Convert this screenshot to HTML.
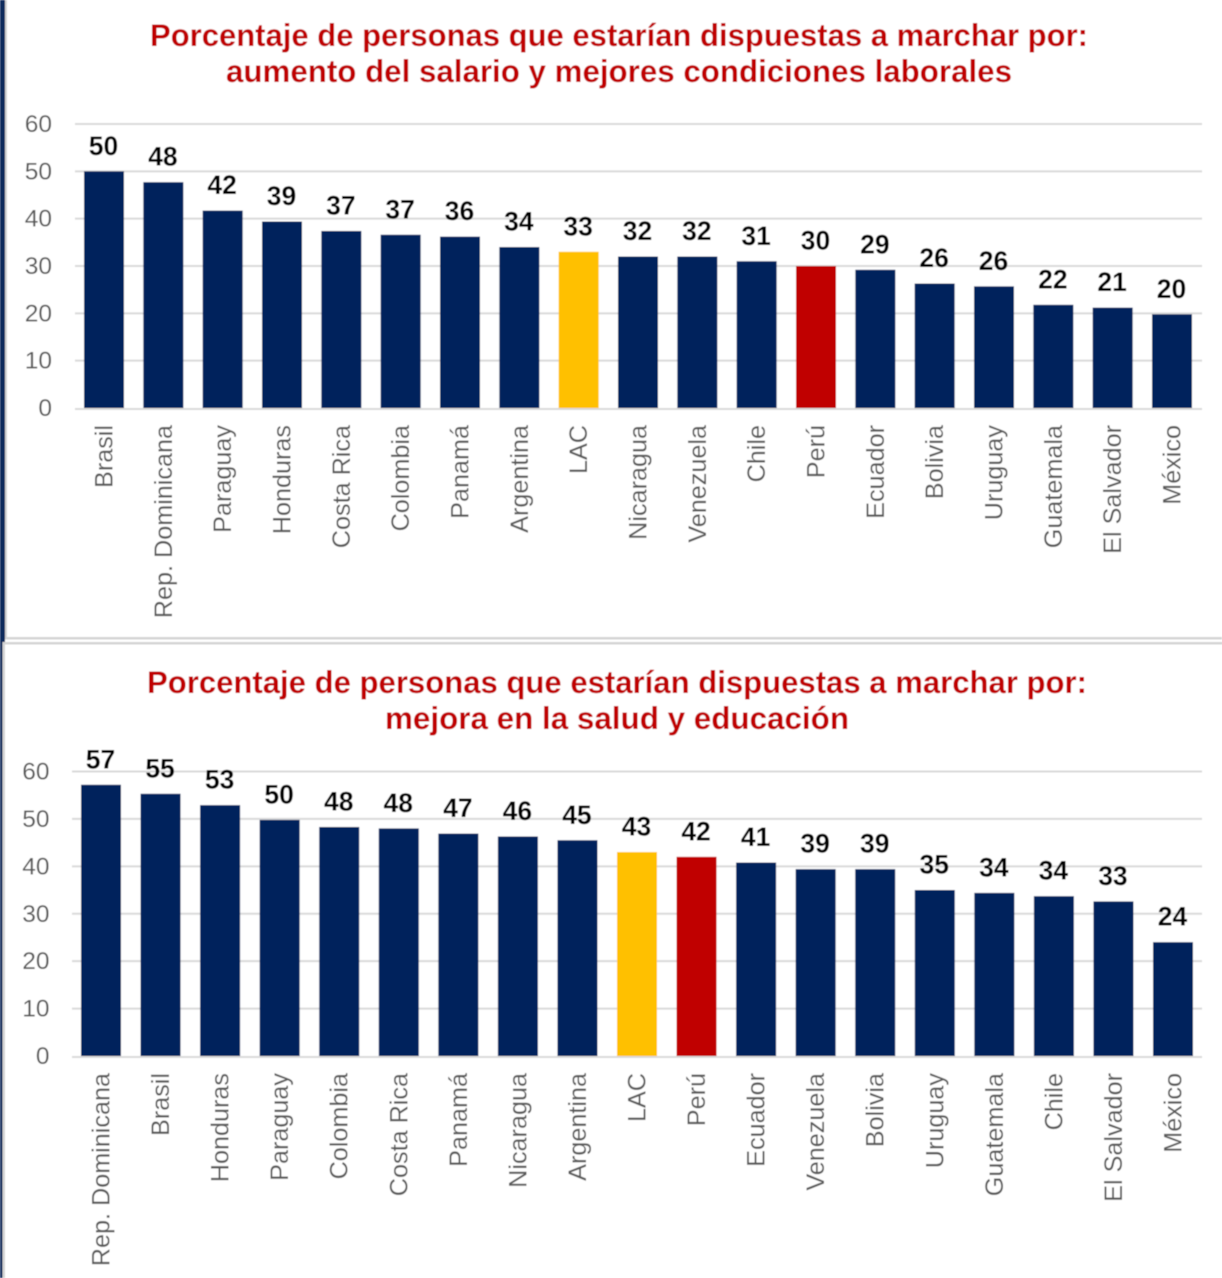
<!DOCTYPE html>
<html lang="es"><head><meta charset="utf-8"><title>Marchas</title>
<style>html,body{margin:0;padding:0;background:#fff}svg{display:block}text{font-family:"Liberation Sans",Arial,sans-serif}</style>
</head><body>
<svg id="figure" xmlns="http://www.w3.org/2000/svg" width="1222" height="1278" viewBox="0 0 1222 1278">
<defs><filter id="soft" x="-2%" y="-2%" width="104%" height="104%"><feGaussianBlur stdDeviation="0.45"/></filter></defs>
<g id="root" filter="url(#soft)">
<rect width="1222" height="1278" fill="#fff"/>
<rect x="0" y="0" width="5" height="642" fill="#0b2a5c"/>
<rect x="0" y="642" width="2.5" height="636" fill="#0b2a5c"/>
<rect x="5" y="0" width="2" height="639" fill="#d4d4d4"/>
<rect x="5" y="637" width="1217" height="2.5" fill="#d4d4d4"/>
<rect x="2.5" y="642" width="1220" height="2.5" fill="#d4d4d4"/>
<rect x="2.5" y="642" width="2.5" height="636" fill="#d4d4d4"/>
<text x="619" y="46" text-anchor="middle" font-size="31.5" font-weight="700" fill="#c00000" textLength="938" lengthAdjust="spacingAndGlyphs">Porcentaje de personas que estarían dispuestas a marchar por:</text>
<text x="619" y="82" text-anchor="middle" font-size="31.5" font-weight="700" fill="#c00000" textLength="786" lengthAdjust="spacingAndGlyphs">aumento del salario y mejores condiciones laborales</text>
<text x="617" y="693" text-anchor="middle" font-size="31.5" font-weight="700" fill="#c00000" textLength="940" lengthAdjust="spacingAndGlyphs">Porcentaje de personas que estarían dispuestas a marchar por:</text>
<text x="617" y="729" text-anchor="middle" font-size="31.5" font-weight="700" fill="#c00000" textLength="464" lengthAdjust="spacingAndGlyphs">mejora en la salud y educación</text>
<g id="chart-top"></g>
<g id="chart-bottom"></g>
</g>
</svg>
<script>
const yTicks = [0, 10, 20, 30, 40, 50, 60];

const topCategories = ["Brasil","Rep. Dominicana","Paraguay","Honduras","Costa Rica","Colombia","Panamá","Argentina","LAC","Nicaragua","Venezuela","Chile","Perú","Ecuador","Bolivia","Uruguay","Guatemala","El Salvador","México"];
const topValues = [50,47.7,41.7,39.4,37.4,36.6,36.2,34,33,32,32,31,30,29.2,26.3,25.7,21.8,21.2,19.8];
const topLabels = ["50","48","42","39","37","37","36","34","33","32","32","31","30","29","26","26","22","21","20"];

const bottomCategories = ["Rep. Dominicana","Brasil","Honduras","Paraguay","Colombia","Costa Rica","Panamá","Nicaragua","Argentina","LAC","Perú","Ecuador","Venezuela","Bolivia","Uruguay","Guatemala","Chile","El Salvador","México"];
const bottomValues = [57.2,55.3,52.9,49.8,48.3,48,46.9,46.3,45.5,43,42,40.8,39.4,39.4,35,34.4,33.7,32.6,24];
const bottomLabels = ["57","55","53","50","48","48","47","46","45","43","42","41","39","39","35","34","34","33","24"];

const NS = 'http://www.w3.org/2000/svg';
function make(parent, tag, attrs, text) {
  const el = document.createElementNS(NS, tag);
  for (const k in attrs) el.setAttribute(k, attrs[k]);
  if (text !== undefined) el.textContent = text;
  parent.appendChild(el);
  return el;
}
function barColor(name) {
  if (name === 'LAC') return '#ffc000';
  if (name === 'Perú') return '#c00000';
  return '#00205c';
}
function slug(s) {
  return s.toLowerCase().normalize('NFD').replace(/[\u0300-\u036f]/g, '').replace(/[^a-z0-9]+/g, '-');
}
function drawChart(host, prefix, cats, vals, labels, geo) {
  const yScale = v => geo.y0 - (v / 60) * (geo.y0 - geo.y60);
  const xScale = i => geo.x0 + i * (geo.xN - geo.x0) / (cats.length - 1);
  yTicks.forEach(t => {
    if (t > 0) {
      const g = make(host, 'line', {x1: geo.gridL, x2: 1202, y1: yScale(t), y2: yScale(t), stroke: '#d9d9d9', 'stroke-width': 2});
      
      
    }
    const l = make(host, 'text', {x: geo.tickX, y: yScale(t) + 8, 'text-anchor': 'end', 'font-size': 24.5, fill: '#595959'}, String(t));
    
    
  });
  cats.forEach((c, i) => {
    const cx = xScale(i), top = yScale(vals[i]);
    const b = make(host, 'rect', {x: cx - 20, y: top, width: 40, height: geo.y0 - top, fill: barColor(c)});
    
    
    const v = make(host, 'text', {x: cx - 0.5, y: top - 16.5, 'text-anchor': 'middle', 'font-size': 26.5, 'font-weight': 700, fill: '#000'}, labels[i]);
    
    
    const bx = cx + 8.5, by = geo.y0 + 17;
    const x = make(host, 'text', {x: bx, y: by, 'text-anchor': 'end', 'font-size': 25.2, fill: '#595959', transform: 'rotate(-90 ' + bx + ' ' + by + ')'}, c);
    
    
  });
  const axis = make(host, 'line', {x1: geo.gridL, x2: 1202, y1: geo.y0 + 1, y2: geo.y0 + 1, stroke: '#d9d9d9', 'stroke-width': 2});
  
  
}
drawChart(document.getElementById('chart-top'), 'top', topCategories, topValues, topLabels, {y0: 408, y60: 124, x0: 104, xN: 1172, gridL: 75, tickX: 52});
drawChart(document.getElementById('chart-bottom'), 'bottom', bottomCategories, bottomValues, bottomLabels, {y0: 1056, y60: 771.5, x0: 101, xN: 1173, gridL: 72, tickX: 49.5});
</script>
</body></html>
